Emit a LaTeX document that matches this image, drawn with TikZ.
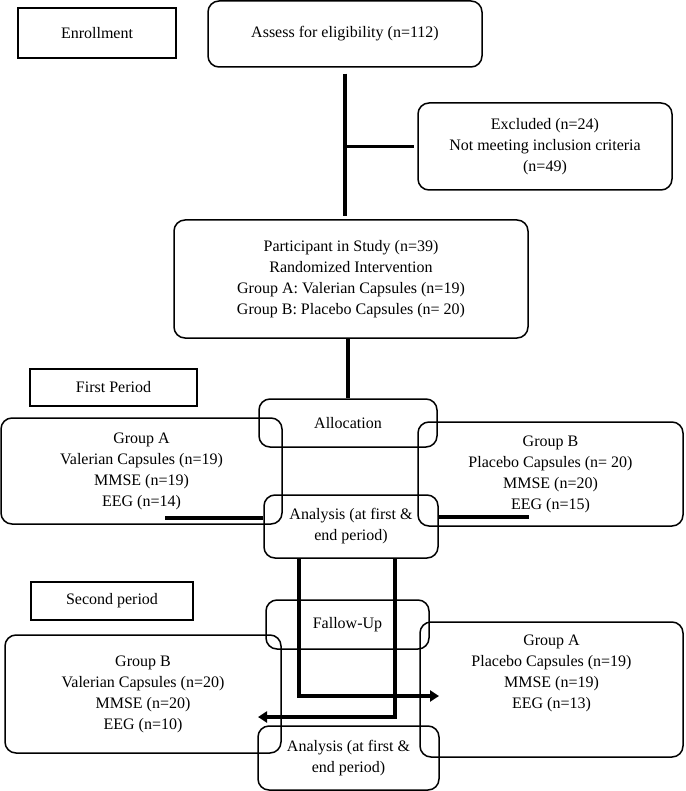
\documentclass[tikz,border=0pt]{standalone}
\usepackage{fontspec}
\setmainfont{Liberation Serif}
\usetikzlibrary{arrows.meta,positioning}

\begin{document}
\begin{tikzpicture}[
  x=1pt, y=-1pt,
  font=\fontsize{16}{21}\selectfont,
  rbox/.style n args={2}{
    draw, rounded corners=11pt, line width=1.5pt, align=center,
    minimum width=#1, minimum height=#2, inner sep=2pt
  },
  period/.style n args={2}{
    draw, line width=1.5pt, align=center,
    minimum width=#1, minimum height=#2, inner sep=2pt
  },
  link/.style={line width=3.2pt},
  arrow/.style={line width=3.2pt, -{Triangle[length=9pt,width=11pt]}}
]
  \useasboundingbox (0,0) rectangle (685,791);

  % enrollment
  \node[period={158pt}{50pt}]   (enroll) at (97,33)    {Enrollment};
  \node[rbox={274pt}{66pt}]     (assess) at (345,34)   {Assess for eligibility (n=112)};
  \node[rbox={254pt}{87pt}]     (excl)   at (545,146.5)
    {Excluded (n=24)\\Not meeting inclusion criteria\\(n=49)};
  \node[rbox={354pt}{118pt}]    (part)   at (351,279)
    {Participant in Study (n=39)\\Randomized Intervention\\
     Group A: Valerian Capsules (n=19)\\Group B: Placebo Capsules (n= 20)};

  % first period
  \node[period={167pt}{37pt}]   (first)  at (113.5,387.5) {First Period};
  \node[rbox={178pt}{48pt}]     (alloc)  at (348,423)  {Allocation};
  \node[rbox={281pt}{106pt}]    (GA1)    at (141.5,471)
    {Group A\\Valerian Capsules (n=19)\\MMSE (n=19)\\EEG (n=14)};
  \node[rbox={265pt}{104pt}]    (GB1)    at (550.5,474)
    {Group B\\Placebo Capsules (n= 20)\\MMSE (n=20)\\EEG (n=15)};
  \node[rbox={174pt}{63pt}]     (AN1)    at (351,526.5)
    {Analysis (at first \&\\end period)};

  % second period
  \node[period={162pt}{38pt}]   (second) at (112,601)  {Second period};
  \node[rbox={163pt}{49pt}]     (follow) at (347.5,624.5) {Fallow-Up};
  \node[rbox={276pt}{118pt}]    (GB2)    at (143,694)
    {Group B\\Valerian Capsules (n=20)\\MMSE (n=20)\\EEG (n=10)};
  \node[rbox={263pt}{135pt}]    (GA2)    at (551.5,689.5)
    {Group A\\Placebo Capsules (n=19)\\MMSE (n=19)\\EEG (n=13)\\[14pt]};
  \node[rbox={181pt}{64pt}]     (AN2)    at (348.5,758)
    {Analysis (at first \&\\end period)};

  \coordinate (lA)   at (165,518);
  \coordinate (rB)   at (529,517);
  \coordinate (tipA) at (439,696);
  \coordinate (tipB) at (258,717);

  \draw[link] ([yshift=-6pt]assess.south) -- ([yshift=3pt]assess.south |- part.north);
  \draw[link] (assess.south |- excl.west) -- ([xshift=-3pt]excl.west);
  \draw[link] (alloc.north |- part.south) -- (alloc.north);
  \draw[link] (lA) -- (lA -| AN1.west);
  \draw[link] (AN1.east |- rB) -- (rB);
  \draw[arrow] ([xshift=-52pt]AN1.south) |- (tipA);
  \draw[arrow] ([xshift=44pt]AN1.south) |- (tipB);
\end{tikzpicture}
\end{document}
